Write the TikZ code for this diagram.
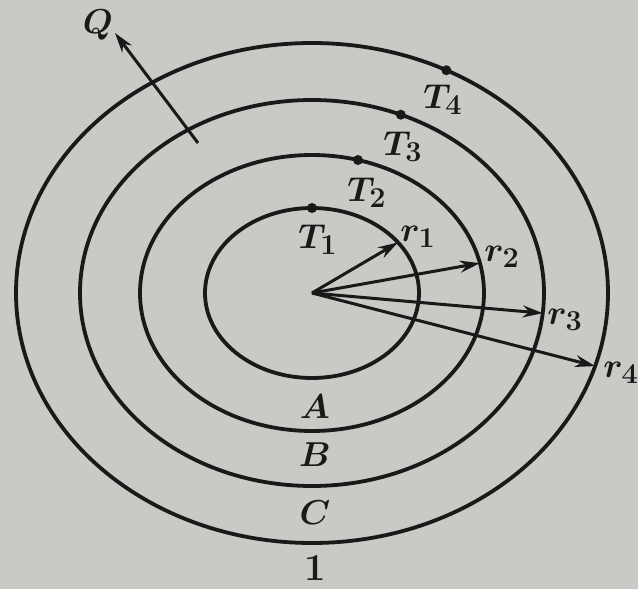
\documentclass[tikz,border=0pt]{standalone}
\usepackage{amsmath,amssymb}
\usepackage{tikz}
\usetikzlibrary{positioning,arrows.meta,calc}

\definecolor{paper}{RGB}{200,202,197}
\definecolor{ink}{RGB}{25,25,25}

\begin{document}
\begin{tikzpicture}[
    x=0.5pt, y=-0.5pt,
    shell/.style={draw=ink, line width=1.9pt},
    radius/.style={-{Stealth[length=10pt,width=6pt]}, draw=ink, line width=1.5pt},
    dot/.style={circle, fill=ink, inner sep=0pt, minimum size=5pt},
    lbl/.style={text=ink, inner sep=0pt, font=\fontsize{19}{21}\selectfont\boldmath}
]
\fill[paper] (0,0) rectangle (638,589);
\useasboundingbox (0,0) rectangle (638,589);

\coordinate (O) at (312,293);

% four isothermal shells
\draw[shell] (O) ellipse [x radius=107, y radius=85];
\draw[shell] (O) ellipse [x radius=172, y radius=138];
\draw[shell] (O) ellipse [x radius=232, y radius=193];
\draw[shell] (O) ellipse [x radius=296, y radius=250];

% temperature points
\node[dot] (t1) at ($(O)+(-90:107 and 85)$) {};
\node[dot] (t2) at ($(O)+(-74.5:172 and 138)$) {};
\node[dot] (t3) at ($(O)+(-67.5:232 and 193)$) {};
\node[dot] (t4) at ($(O)+(-63:296 and 250)$) {};
\node[lbl] (T1) at (318,240) {$T_1$};
\node[lbl] (T2) at (367,193) {$T_2$};
\node[lbl] (T3) at (403,147) {$T_3$};
\node[lbl] (T4) at (443,100) {$T_4$};

% radii
\coordinate (e1) at ($(O)+(-36.5:107 and 85)$);
\coordinate (e2) at ($(O)+(-12.5:172 and 138)$);
\coordinate (e3) at ($(O)+(6:232 and 193)$);
\coordinate (e4) at ($(O)+(17:296 and 250)$);
\draw[radius] (O) -- (e1);
\draw[radius] (O) -- (e2);
\draw[radius] (O) -- (e3);
\draw[radius] (O) -- (e4);
\node[lbl] (r1) at (418,237) {$r_1$};
\node[lbl] (r2) at (502,257) {$r_2$};
\node[lbl] (r3) at (565,320) {$r_3$};
\node[lbl] (r4) at (621,373) {$r_4$};

% layers
\node[lbl] (A) at (315,407) {$A$};
\node[lbl] (B) at (315,455) {$B$};
\node[lbl] (C) at (315,513) {$C$};
\node[lbl] (one) at (315,568) {\textbf{1}};

% heat flow
\coordinate (qs) at (198,143);
\node[lbl] (Q) at (98,25) {$Q$};
\coordinate (qe) at (115,33);
\draw[radius] (qs) -- (qe);
\end{tikzpicture}
\end{document}
